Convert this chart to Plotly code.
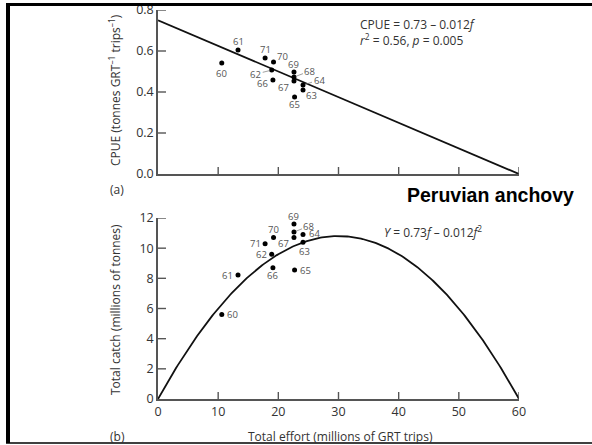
import plotly.graph_objects as go
import numpy as np

W, H = 592, 445

years = ["60", "61", "62", "63", "64", "65", "66", "67", "68", "69", "70", "71"]
effort = [10.6, 13.3, 18.9, 24.1, 24.1, 22.7, 19.1, 22.6, 22.6, 22.6, 19.2, 17.8]
cpue = [0.541, 0.605, 0.507, 0.41, 0.434, 0.376, 0.459, 0.454, 0.473, 0.498, 0.546, 0.566]
catch = [5.6, 8.22, 9.6, 10.4, 10.9, 8.55, 8.7, 10.7, 11.07, 11.6, 10.7, 10.3]

line_intercept = 0.75
line_slope = -0.0125
curve_a = 0.72
curve_b = 0.012

x_ticks = [0, 10, 20, 30, 40, 50, 60]
cpue_ticks = [0.0, 0.2, 0.4, 0.6, 0.8]
catch_ticks = [0, 2, 4, 6, 8, 10, 12]

top_off = {"60": (0, 10), "61": (0, -8), "62": (-16, 4), "63": (8, 6), "64": (16, -5),
           "65": (0, 8), "66": (-10, 4), "67": (-10, 7), "68": (16, -6), "69": (0, -7),
           "70": (9, -6), "71": (0, -8)}
bot_off = {"60": (11, 0), "61": (-11, 0), "62": (-10, 0), "63": (1, 9), "64": (11, -1),
           "65": (11, 0), "66": (0, 8), "67": (-10, 6), "68": (15, -6), "69": (0, -8),
           "70": (0, -8), "71": (-10, 0)}
top_leader = {"62", "64", "68"}
bot_leader = {"68"}


def px(x):
    return x / W


def py(y):
    return 1 - y / H


TOP_DOM = (py(174), py(10))
BOT_DOM = (py(399), py(218))
X_DOM = (px(158), px(519))

fig = go.Figure()

f_line = np.linspace(0, 60, 61)
fig.add_trace(go.Scatter(x=f_line, y=line_intercept + line_slope * f_line, mode="lines",
                         line=dict(color="#111", width=1.8), xaxis="x", yaxis="y",
                         showlegend=False, hoverinfo="skip"))
fig.add_trace(go.Scatter(x=effort, y=cpue, mode="markers",
                         marker=dict(color="#000", size=5), xaxis="x", yaxis="y",
                         showlegend=False))
f_curve = np.linspace(0, 60, 241)
fig.add_trace(go.Scatter(x=f_curve, y=curve_a * f_curve - curve_b * f_curve ** 2, mode="lines",
                         line=dict(color="#111", width=1.8), xaxis="x2", yaxis="y2",
                         showlegend=False, hoverinfo="skip"))
fig.add_trace(go.Scatter(x=effort, y=catch, mode="markers",
                         marker=dict(color="#000", size=5), xaxis="x2", yaxis="y2",
                         showlegend=False))

ann = []
lab_font = dict(family="Open Sans", size=9.5, color="#555")
for i, yr in enumerate(years):
    dx, dy = top_off[yr]
    if yr in top_leader:
        ann.append(dict(x=effort[i], y=cpue[i], xref="x", yref="y", text=yr, showarrow=True,
                        ax=dx, ay=dy, arrowhead=0, arrowwidth=0.7, arrowcolor="#777",
                        standoff=2, font=lab_font))
    else:
        ann.append(dict(x=effort[i], y=cpue[i], xref="x", yref="y", text=yr, showarrow=False,
                        xshift=dx, yshift=-dy, font=lab_font))
    dx, dy = bot_off[yr]
    if yr in bot_leader:
        ann.append(dict(x=effort[i], y=catch[i], xref="x2", yref="y2", text=yr, showarrow=True,
                        ax=dx, ay=dy, arrowhead=0, arrowwidth=0.7, arrowcolor="#777",
                        standoff=2, font=lab_font))
    else:
        ann.append(dict(x=effort[i], y=catch[i], xref="x2", yref="y2", text=yr, showarrow=False,
                        xshift=dx, yshift=-dy, font=lab_font))

txt_font = dict(family="Open Sans", size=12, color="#333")
ann += [
    dict(x=px(358), y=py(32), xref="paper", yref="paper", xanchor="left", yanchor="middle",
         align="left",
         text="CPUE = 0.73 – 0.012<i>f</i><br><i>r</i><sup>2</sup> = 0.56, <i>p</i> = 0.005",
         showarrow=False, font=txt_font),
    dict(x=px(382), y=py(232), xref="paper", yref="paper", xanchor="left", yanchor="middle",
         text="<i>Y</i> = 0.73<i>f</i> – 0.012<i>f</i><sup>2</sup>", showarrow=False, font=txt_font),
    dict(x=px(115), y=py(90), xref="paper", yref="paper", xanchor="center", yanchor="middle",
         text="CPUE (tonnes GRT<sup>–1</sup> trips<sup>–1</sup>)", textangle=-90,
         showarrow=False, font=txt_font),
    dict(x=px(115), y=py(309), xref="paper", yref="paper", xanchor="center", yanchor="middle",
         text="Total catch (millions of tonnes)", textangle=-90, showarrow=False, font=txt_font),
    dict(x=px(340), y=py(436), xref="paper", yref="paper", xanchor="center", yanchor="middle",
         text="Total effort (millions of GRT trips)", showarrow=False, font=txt_font),
    dict(x=px(117), y=py(190), xref="paper", yref="paper", xanchor="center", yanchor="middle",
         text="(a)", showarrow=False, font=txt_font),
    dict(x=px(117), y=py(436), xref="paper", yref="paper", xanchor="center", yanchor="middle",
         text="(b)", showarrow=False, font=txt_font),
    dict(x=px(576), y=py(195), xref="paper", yref="paper", xanchor="right", yanchor="middle",
         text="<b>Peruvian anchovy</b>", showarrow=False,
         font=dict(family="Liberation Sans, Arial", size=19.5, color="#000")),
]

axis_common = dict(showline=True, linecolor="#555", linewidth=1.5, ticks="",
                   showgrid=False, zeroline=False, automargin=False,
                   tickfont=dict(family="Open Sans", size=12.5, color="#333"))

# inward tick marks as shapes; tick length is a style (pixels) turned into data units
TICK_PX_X = 7
TICK_PX_Y = 8
tick_style = dict(color="#555", width=1.4)
shapes = []
panels = [("x", "y", cpue_ticks, TOP_DOM), ("x2", "y2", catch_ticks, BOT_DOM)]
for xa, ya, yt, dom in panels:
    dom_h = (dom[1] - dom[0]) * H
    dom_w = (X_DOM[1] - X_DOM[0]) * W
    y_span = yt[-1] - yt[0]
    x_span = x_ticks[-1] - x_ticks[0]
    tl_y = TICK_PX_X * y_span / dom_h
    tl_x = TICK_PX_Y * x_span / dom_w
    for t in x_ticks[1:]:
        shapes.append(dict(type="line", xref=xa, yref=ya, x0=t, x1=t, y0=yt[0], y1=yt[0] + tl_y,
                           line=tick_style))
    for t in yt[1:]:
        shapes.append(dict(type="line", xref=xa, yref=ya, x0=x_ticks[0], x1=x_ticks[0] + tl_x,
                           y0=t, y1=t, line=tick_style))

shapes += [
    dict(type="line", xref="paper", yref="paper", x0=px(8), x1=px(8), y0=py(4), y1=py(443),
         line=dict(color="#000", width=4)),
    dict(type="line", xref="paper", yref="paper", x0=px(6), x1=1, y0=py(4.5), y1=py(4.5),
         line=dict(color="#000", width=3)),
    dict(type="line", xref="paper", yref="paper", x0=px(6), x1=1, y0=py(443), y1=py(443),
         line=dict(color="#000", width=1.5)),
]

fig.update_layout(
    width=W, height=H, margin=dict(l=0, r=0, t=0, b=0),
    paper_bgcolor="white", plot_bgcolor="white",
    xaxis=dict(domain=list(X_DOM), range=[0, 60], tickvals=x_ticks, showticklabels=False,
               anchor="y", **axis_common),
    yaxis=dict(domain=list(TOP_DOM), range=[0, 0.8], tickvals=cpue_ticks, tickformat=".1f",
               anchor="x", **axis_common),
    xaxis2=dict(domain=list(X_DOM), range=[0, 60], tickvals=x_ticks, anchor="y2",
                **axis_common),
    yaxis2=dict(domain=list(BOT_DOM), range=[0, 12], tickvals=catch_ticks, anchor="x2",
                **axis_common),
    annotations=ann,
    shapes=shapes,
)

fig.write_html("out.html")
